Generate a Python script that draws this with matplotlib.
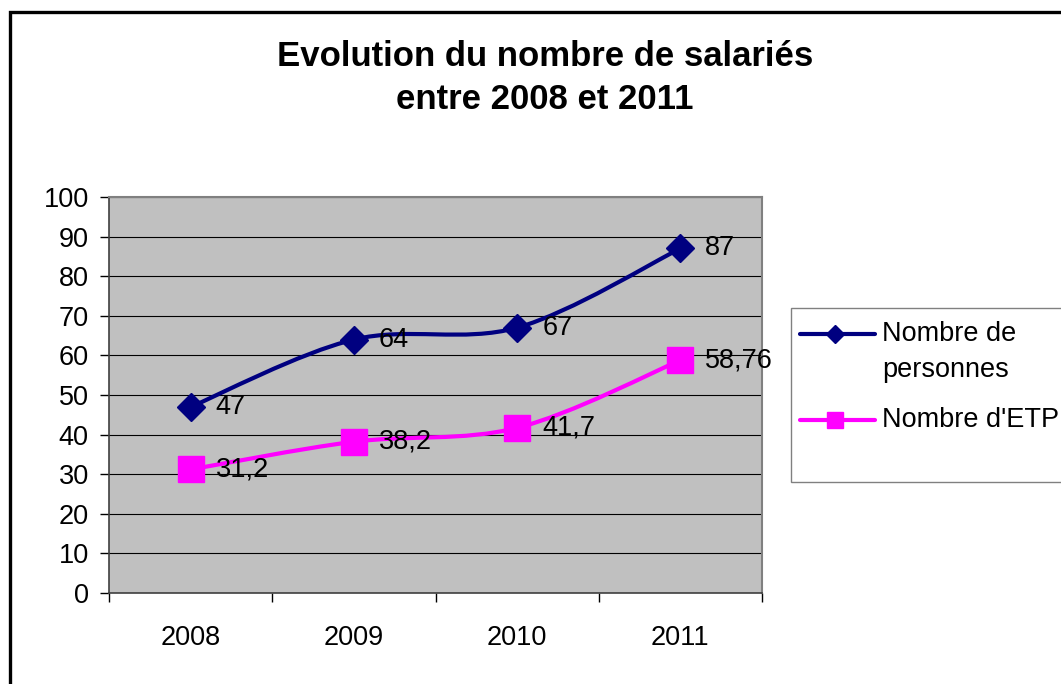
import numpy as np
import matplotlib
matplotlib.use("Agg")
import matplotlib.pyplot as plt
from matplotlib.path import Path
from matplotlib.patches import PathPatch, Rectangle
from matplotlib.lines import Line2D

plt.rcParams['font.family'] = ['Liberation Sans', 'DejaVu Sans']

years = ['2008', '2009', '2010', '2011']
personnes = [47, 64, 67, 87]
etp = [31.2, 38.2, 41.7, 58.76]
lab_personnes = ['47', '64', '67', '87']
lab_etp = ['31,2', '38,2', '41,7', '58,76']
series_names = ['Nombre de\npersonnes', "Nombre d'ETP"]
title = 'Evolution du nombre de salariés\nentre 2008 et 2011'

W, H = 1061, 684
FS = 19.5
fig = plt.figure(figsize=(W / 100, H / 100), dpi=100)
ax = fig.add_axes([109 / W, 1 - 593 / H, (762 - 109) / W, (593 - 197) / H])
ax.set_facecolor('#C0C0C0')


def smooth_path(xs, ys):
    # excel-like smoothed line: bezier through the points
    pts = np.column_stack([xs, ys]).astype(float)
    n = len(pts)
    verts = [pts[0]]
    codes = [Path.MOVETO]
    for i in range(n - 1):
        p0 = pts[max(i - 1, 0)]
        p1 = pts[i]
        p2 = pts[i + 1]
        p3 = pts[min(i + 2, n - 1)]
        c1 = p1 + (p2 - p0) / 6
        c2 = p2 - (p3 - p1) / 6
        verts += [c1, c2, p2]
        codes += [Path.CURVE4] * 3
    return Path(verts, codes)


x = np.arange(len(years))
for vals, labs, col, mk, ms in [(personnes, lab_personnes, '#000080', 'D', 14),
                                (etp, lab_etp, '#FF00FF', 's', 18.5)]:
    ax.add_patch(PathPatch(smooth_path(x, vals), facecolor='none', edgecolor=col,
                           lw=3, zorder=3, capstyle='round'))
    ax.plot(x, vals, linestyle='none', marker=mk, markersize=ms, color=col, zorder=4)
    for xi, v, t in zip(x, vals, labs):
        ax.annotate(t, (xi, v), xytext=(18, 0), textcoords='offset points',
                    va='center', ha='left', fontsize=FS, zorder=5)

ax.set_xlim(-0.5, 3.5)
ax.set_ylim(0, 100)
ax.set_yticks(np.arange(0, 101, 10))
ax.yaxis.grid(True, color='black', lw=0.8)
ax.set_axisbelow(True)
ax.set_xticks(x)
ax.set_xticklabels(years)
ax.set_xticks(np.arange(-0.5, 4, 1), minor=True)
ax.tick_params(axis='x', which='major', length=0, pad=23, labelsize=FS)
ax.tick_params(axis='x', which='minor', length=6.5, width=1, direction='out')
ax.tick_params(axis='y', length=6.5, width=1, pad=8, labelsize=FS)
for s in ['top', 'right']:
    ax.spines[s].set_color('#808080')
    ax.spines[s].set_linewidth(1.5)
for s in ['left', 'bottom']:
    ax.spines[s].set_color('#404040')
    ax.spines[s].set_linewidth(1.2)

fig.text(545 / W, 1 - 78 / H, title, ha='center', va='center', fontsize=25,
         fontweight='bold', linespacing=1.42)

# outer chart border
fig.patches.append(Rectangle((10 / W, -0.1), 1.2, (H - 12) / H + 0.1,
                             transform=fig.transFigure, fill=False, lw=2.4,
                             edgecolor='black', zorder=10))

# legend box
fig.patches.append(Rectangle((791 / W, 1 - 482 / H), 0.5, (482 - 308) / H,
                             transform=fig.transFigure, facecolor='white',
                             edgecolor='#808080', lw=1))
leg_y = [334, 420]
for (col, mk, ms), name, yy in zip([('#000080', 'D', 9), ('#FF00FF', 's', 11)],
                                   series_names, leg_y):
    fy = 1 - yy / H
    fig.lines.append(Line2D([800 / W, 875 / W], [fy, fy], transform=fig.transFigure,
                            color=col, lw=3, solid_capstyle='round'))
    fig.lines.append(Line2D([835 / W], [fy], transform=fig.transFigure, color=col,
                            marker=mk, markersize=ms, linestyle='none'))
    for k, line in enumerate(name.split('\n')):
        fig.text(882 / W, 1 - (yy + 36 * k) / H, line, ha='left', va='center',
                 fontsize=FS)

fig.savefig('out.png', dpi=100)
